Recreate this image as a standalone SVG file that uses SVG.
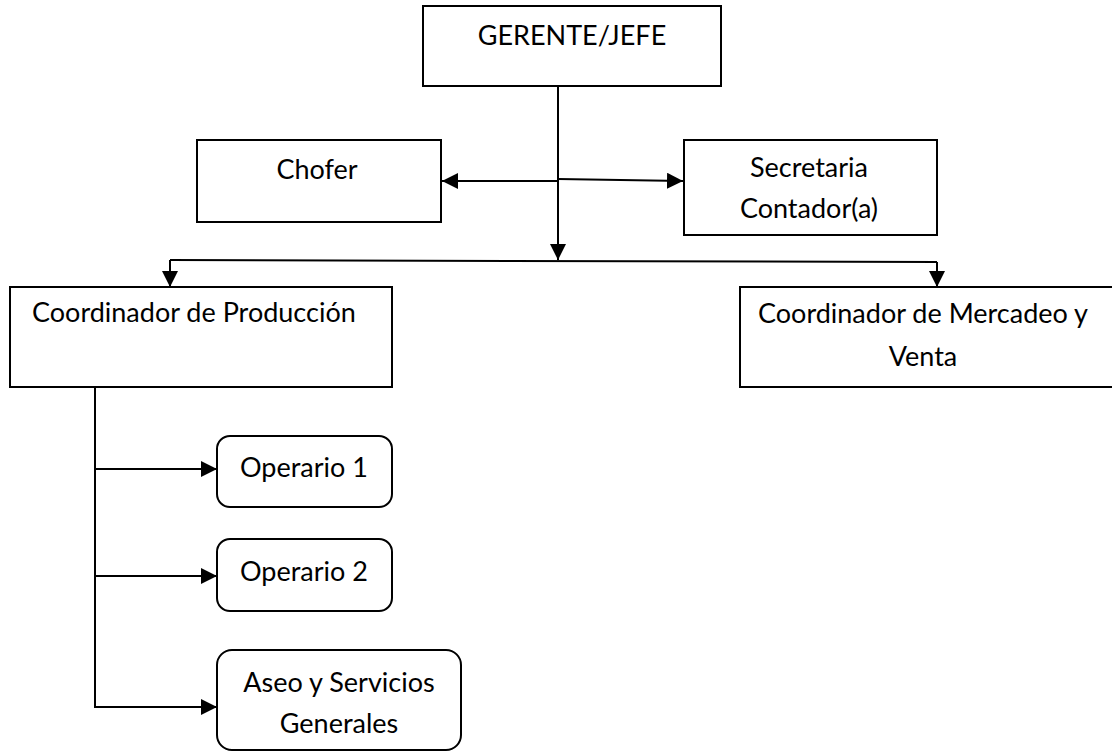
<svg xmlns="http://www.w3.org/2000/svg" width="1112" height="753" viewBox="0 0 1112 753">
  <style>
    .box { fill: #ffffff; stroke: #000000; stroke-width: 2; }
    .lbl { font-family: Lato, "Open Sans", "Liberation Sans", sans-serif; font-size: 27px; fill: #000000; text-anchor: middle; }
    .lbl-start { font-family: Lato, "Open Sans", "Liberation Sans", sans-serif; font-size: 27px; fill: #000000; }
    .wire { fill: none; stroke: #000000; stroke-width: 2; }
    .arrow { fill: none; stroke: #000000; stroke-width: 2; marker-end: url(#head); }
  </style>
  <defs>
    <marker id="head" markerUnits="userSpaceOnUse" markerWidth="17" markerHeight="17" refX="16" refY="8" orient="auto">
      <path d="M0,0 L16,8 L0,16 z" fill="#000000"/>
    </marker>
  </defs>
  <rect width="1112" height="753" fill="#ffffff"/>

  <!-- connectors -->
  <g id="connectors">
    <path class="arrow" d="M558,86 V260"/>
    <path class="arrow" d="M558,181 H442"/>
    <path class="arrow" d="M558,179 L683,181"/>
    <path class="wire" d="M170,260 L937,262"/>
    <path class="arrow" d="M170,260 V287"/>
    <path class="arrow" d="M937,262 V287"/>
    <path class="wire" d="M95,387 V708"/>
    <path class="arrow" d="M94,469 H217"/>
    <path class="arrow" d="M94,576 H217"/>
    <path class="arrow" d="M94,707 H217"/>
  </g>

  <g id="gerente">
    <rect class="box" x="423" y="6" width="298" height="80"/>
    <text class="lbl" x="572" y="45">GERENTE/JEFE</text>
  </g>

  <g id="chofer">
    <rect class="box" x="197" y="140" width="244" height="82"/>
    <text class="lbl" x="317" y="179">Chofer</text>
  </g>

  <g id="secretaria">
    <rect class="box" x="684" y="140" width="253" height="95"/>
    <text class="lbl" x="809" y="177">Secretaria</text>
    <text class="lbl" x="809" y="218">Contador(a)</text>
  </g>

  <g id="coord-produccion">
    <rect class="box" x="10" y="287" width="382" height="100"/>
    <text class="lbl-start" x="32" y="322">Coordinador de Producción</text>
  </g>

  <g id="coord-mercadeo">
    <rect class="box" x="740" y="287" width="390" height="100"/>
    <text class="lbl" x="923" y="323">Coordinador de Mercadeo y</text>
    <text class="lbl" x="923" y="366">Venta</text>
  </g>

  <g id="operario1">
    <rect class="box" x="217" y="436" width="175" height="71" rx="13" ry="13"/>
    <text class="lbl" x="304" y="477">Operario 1</text>
  </g>

  <g id="operario2">
    <rect class="box" x="217" y="539" width="175" height="72" rx="13" ry="13"/>
    <text class="lbl" x="304" y="581">Operario 2</text>
  </g>

  <g id="aseo">
    <rect class="box" x="217" y="650" width="244" height="100" rx="15" ry="15"/>
    <text class="lbl" x="339" y="692">Aseo y Servicios</text>
    <text class="lbl" x="339" y="733">Generales</text>
  </g>
</svg>
